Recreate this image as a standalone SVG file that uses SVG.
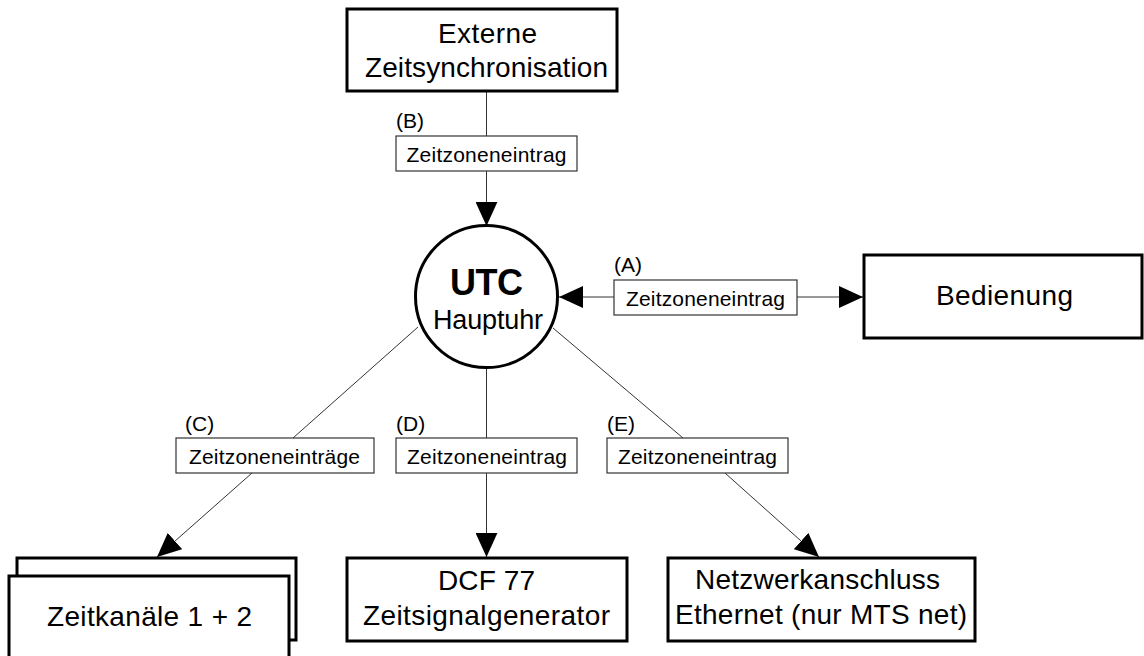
<svg xmlns="http://www.w3.org/2000/svg" width="1144" height="656" viewBox="0 0 1144 656">
<style>
.node{fill:#fff;stroke:#000;stroke-width:3}
.lbl{fill:#fff;stroke:#333;stroke-width:1.2}
.t{font-family:"Liberation Sans",Arial,sans-serif;font-size:28px;fill:#000;text-anchor:middle}
.s{font-family:"Liberation Sans",Arial,sans-serif;font-size:21px;fill:#000;text-anchor:middle}
.k{font-family:"Liberation Sans",Arial,sans-serif;font-size:21px;fill:#000}
.c{stroke:#333;stroke-width:1;fill:none}
</style>
<defs>
<marker id="ah" markerUnits="userSpaceOnUse" markerWidth="24" markerHeight="22" refX="22" refY="10" orient="auto-start-reverse" viewBox="0 0 22 20">
<path d="M0,0 L22,10 L0,20 Z" fill="#000"/>
</marker>
</defs>
<g id="connectors">
<line class="c" x1="486.5" y1="91" x2="486.5" y2="136"/>
<line class="c" x1="486.5" y1="171" x2="486.5" y2="226" marker-end="url(#ah)"/>
<line class="c" x1="614" y1="297" x2="559" y2="297" marker-end="url(#ah)"/>
<line class="c" x1="797" y1="297" x2="863" y2="297" marker-end="url(#ah)"/>
<line class="c" x1="418" y1="327" x2="293" y2="438"/>
<line class="c" x1="252" y1="473" x2="157" y2="557" marker-end="url(#ah)"/>
<line class="c" x1="486.5" y1="368" x2="486.5" y2="438"/>
<line class="c" x1="486.5" y1="473" x2="486.5" y2="557" marker-end="url(#ah)"/>
<line class="c" x1="553" y1="328" x2="683" y2="438"/>
<line class="c" x1="725" y1="473" x2="819" y2="557" marker-end="url(#ah)"/>
</g>
<g id="lbl-b">
<text class="k" x="396" y="128">(B)</text>
<rect class="lbl" x="396" y="136" width="181" height="35"/>
<text class="s" x="486.5" y="162" textLength="160">Zeitzoneneintrag</text>
</g>
<g id="lbl-a">
<text class="k" x="614" y="272">(A)</text>
<rect class="lbl" x="614" y="280" width="183" height="35"/>
<text class="s" x="705.5" y="306" textLength="159">Zeitzoneneintrag</text>
</g>
<g id="lbl-c">
<text class="k" x="185" y="431">(C)</text>
<rect class="lbl" x="176" y="438" width="198" height="35"/>
<text class="s" x="274.5" y="464" textLength="171">Zeitzoneneinträge</text>
</g>
<g id="lbl-d">
<text class="k" x="396" y="431">(D)</text>
<rect class="lbl" x="396" y="438" width="181" height="35"/>
<text class="s" x="487" y="464" textLength="160">Zeitzoneneintrag</text>
</g>
<g id="lbl-e">
<text class="k" x="607" y="431">(E)</text>
<rect class="lbl" x="607" y="438" width="181" height="35"/>
<text class="s" x="697.5" y="464" textLength="159">Zeitzoneneintrag</text>
</g>
<g id="extern">
<rect class="node" x="347" y="9" width="270" height="82"/>
<text class="t" x="487.5" y="43" textLength="99">Externe</text>
<text class="t" x="486.5" y="77" textLength="243">Zeitsynchronisation</text>
</g>
<g id="utc">
<circle class="node" cx="486.5" cy="296.5" r="71"/>
<text class="t" x="486.5" y="295" style="font-weight:bold;font-size:36px" textLength="73">UTC</text>
<text class="t" x="488" y="329" style="font-size:27px" textLength="110">Hauptuhr</text>
</g>
<g id="bedienung">
<rect class="node" x="864" y="255" width="278" height="83"/>
<text class="t" x="1004.5" y="305" textLength="137">Bedienung</text>
</g>
<g id="zeitkanaele">
<rect class="node" x="17" y="558" width="279" height="82"/>
<rect class="node" x="9" y="576" width="280" height="90"/>
<text class="t" x="149.5" y="626" textLength="205">Zeitkanäle 1 + 2</text>
</g>
<g id="dcf">
<rect class="node" x="347" y="558" width="280" height="83"/>
<text class="t" x="486.5" y="590" textLength="97">DCF 77</text>
<text class="t" x="486.5" y="625" textLength="247">Zeitsignalgenerator</text>
</g>
<g id="netz">
<rect class="node" x="668" y="558" width="307" height="83"/>
<text class="t" x="817.5" y="589" textLength="245">Netzwerkanschluss</text>
<text class="t" x="821" y="624" textLength="292">Ethernet (nur MTS net)</text>
</g>
</svg>
